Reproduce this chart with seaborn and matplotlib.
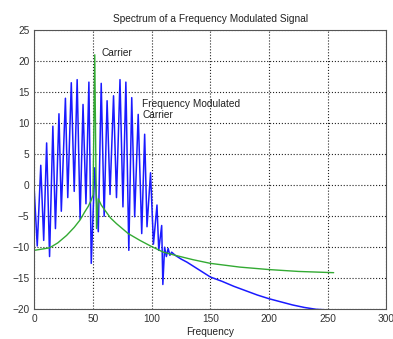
import pandas as pd
import seaborn as sns
import matplotlib.pyplot as plt

# FM spectrum (blue)
fm_freq = [0, 2.5, 5.5, 8, 10.5, 13, 15.8, 18, 21, 23, 26.5, 28.5, 31.5, 34,
           36.5, 39, 41.5, 44, 46.5, 48.5, 51.5, 54.5, 57, 59.5, 62, 64.5,
           67.5, 70, 73, 75.5, 78, 80.5, 83, 85.5, 88.5, 91.5, 94, 96, 99,
           101.5, 104.5, 106, 108.5, 109.5, 111, 112.5, 114, 115.5, 117,
           120, 125, 130, 135, 140, 145, 150, 160, 170, 180, 190, 200, 210,
           220, 230, 240, 250, 255]
fm_db = [-1, -9.8, 3.2, -8.9, 6.8, -11.5, 9.5, -7, 11.5, -4.2, 14, -2, 16.5, -1,
         17, -5.5, 13, -3, 16.6, -12.6, 2.8, -7.5, 16.4, -5, 13.6, -1.5,
         14.4, -2, 17, -3.5, 16.6, -10.5, 14.1, -5.1, 11.4, -7.8, 8.2, -6.7, 2,
         -9.5, -3.2, -10.5, -6.5, -16, -10, -11.5, -10.2, -11.3, -10.8,
         -11.3, -11.9, -12.4, -13.0, -13.6, -14.2, -14.8, -15.5, -16.3, -17.0,
         -17.7, -18.3, -18.8, -19.3, -19.7, -20.0, -20.1, -20.2]

# unmodulated carrier spectrum (green)
car_freq = [0, 13, 20, 27.5, 34, 39, 43, 46, 48.5, 50, 51.5, 53, 54.5, 57, 60,
            65, 70, 80, 90, 100, 110, 120, 135, 150, 175, 200, 225, 255]
car_db = [-10.5, -10.1, -9.3, -8.1, -6.8, -5.6, -4.3, -3.4, -2.4, -1.6, 21, -7, -2.2, -3.2, -4,
          -5.3, -6.2, -7.8, -8.9, -9.9, -10.8, -11.3, -12, -12.6, -13.2, -13.6, -13.9, -14.1]

xticks = [0, 50, 100, 150, 200, 250, 300]
yticks = [-20, -15, -10, -5, 0, 5, 10, 15, 20, 25]

sns.set_style("white")
plt.rcParams['font.family'] = ['Liberation Sans', 'DejaVu Sans']

fig = plt.figure(figsize=(3.93, 3.39), dpi=100)
ax = fig.add_axes([0.0873, 0.0876, 0.8961, 0.824])

fm = pd.DataFrame({'freq': fm_freq, 'db': fm_db})
car = pd.DataFrame({'freq': car_freq, 'db': car_db})

sns.lineplot(data=fm, x='freq', y='db', ax=ax, color='#1a1aff', linewidth=1.1,
             estimator=None, sort=False)
sns.lineplot(data=car, x='freq', y='db', ax=ax, color='#33aa33', linewidth=1.0,
             estimator=None, sort=False)

ax.set_xlim(0, 300)
ax.set_ylim(-20, 25)
ax.set_xticks(xticks)
ax.set_yticks(yticks)
ax.tick_params(direction='in', labelsize=7.3, colors='#333333', length=3)
ax.grid(True, linestyle=':', color='#222222', linewidth=0.8)
for s in ax.spines.values():
    s.set_color('#555555')
    s.set_linewidth(0.8)

ax.set_title('Spectrum of a Frequency Modulated Signal', fontsize=7.3, color='#222222', pad=6)
ax.set_xlabel('Frequency', fontsize=7.3, color='#222222', labelpad=2)
ax.set_ylabel('')

ax.text(57, 21.3, 'Carrier', fontsize=7.3, color='#222222', va='center')
ax.text(92, 12.2, 'Frequency Modulated\nCarrier', fontsize=7.3, color='#222222',
        va='center', linespacing=1.1)

plt.savefig('out.png', dpi=100)
plt.close()
